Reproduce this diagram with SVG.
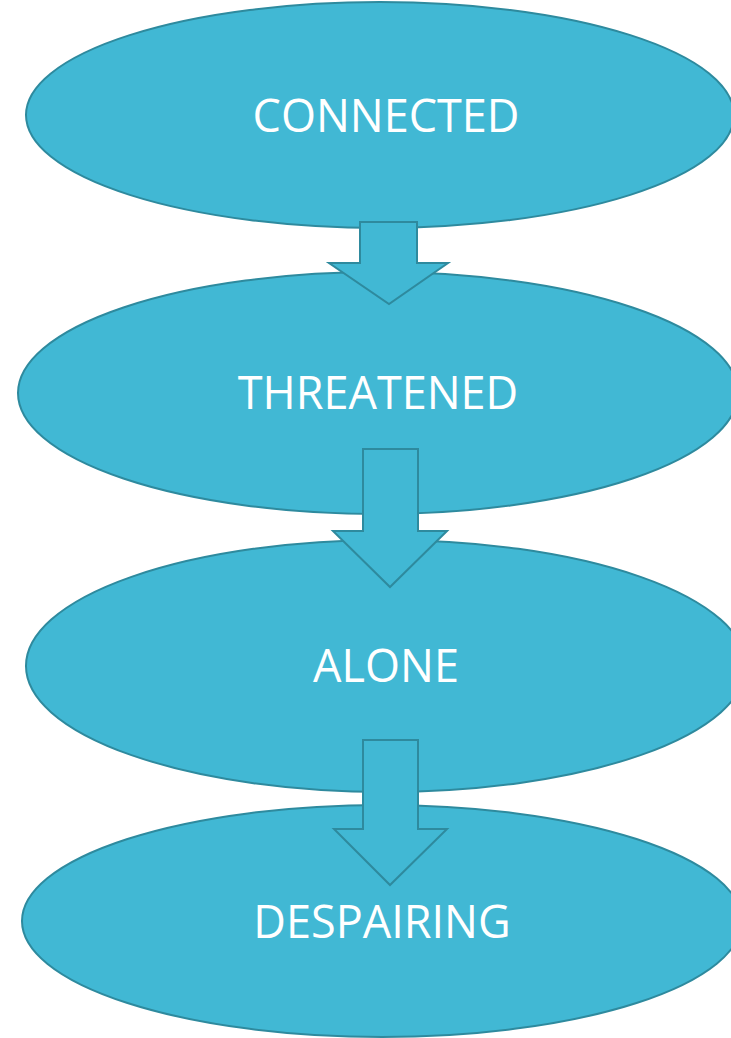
<svg xmlns="http://www.w3.org/2000/svg" width="731" height="1038" viewBox="0 0 731 1038">
<style>
.n{fill:#41B8D4;stroke:#2E8A9E;stroke-width:2}
.a{fill:#41B8D4;stroke:#2E8A9E;stroke-width:2;stroke-linejoin:miter}
.t{fill:#FFFFFF;font-family:"Open Sans","Liberation Sans",sans-serif;font-size:45px;text-anchor:middle}
</style>
<rect width="731" height="1038" fill="#FFFFFF"/>
<g id="node-connected"><ellipse class="n" cx="380" cy="115" rx="354" ry="113"/><text class="t" x="386" y="132">CONNECTED</text></g>
<g id="node-threatened"><ellipse class="n" cx="378" cy="393" rx="360" ry="121"/><text class="t" x="378" y="409">THREATENED</text></g>
<g id="node-alone"><ellipse class="n" cx="386" cy="666" rx="360" ry="126"/><text class="t" x="386" y="682">ALONE</text></g>
<g id="node-despairing"><ellipse class="n" cx="382" cy="921" rx="360" ry="116"/><text class="t" x="382" y="938">DESPAIRING</text></g>
<g id="connectors">
<polygon class="a" points="360,222 417,222 417,263 448,263 389,304 329,263 360,263"/>
<polygon class="a" points="363,449 418,449 418,531 447,531 390,587 333,531 363,531"/>
<polygon class="a" points="363,740 418,740 418,829 447,829 390,885 334,829 363,829"/>
</g>
</svg>
